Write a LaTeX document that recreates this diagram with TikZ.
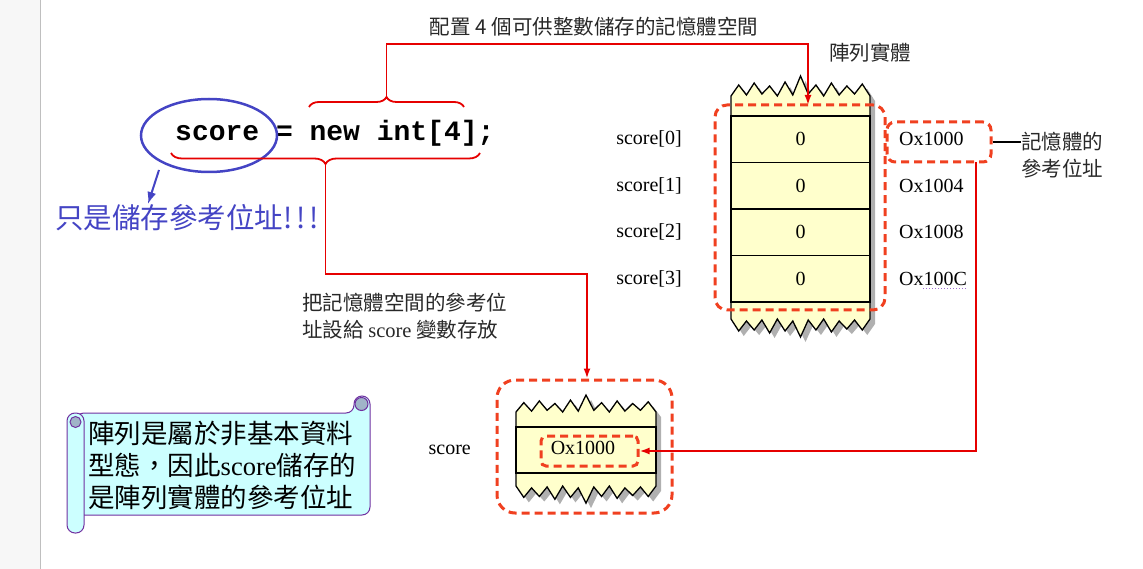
\documentclass[tikz,border=0pt]{standalone}
\usepackage{fontspec}
\setmainfont{Liberation Serif}
\newfontfamily\cjk{Noto Sans CJK TC}
\newfontfamily\codefont{Liberation Mono}
\usepackage{tikz}
\usetikzlibrary{positioning,shapes.geometric,arrows.meta,decorations.pathreplacing}
\definecolor{memyellow}{RGB}{255,255,204}
\definecolor{dashred}{RGB}{240,64,32}
\definecolor{linered}{RGB}{230,0,0}
\definecolor{markblue}{RGB}{68,68,196}
\definecolor{scrollfill}{RGB}{204,255,255}
\definecolor{scrollline}{RGB}{112,48,160}
\definecolor{curlgray}{RGB}{160,180,200}
\definecolor{shadowgray}{RGB}{176,176,176}
\definecolor{notegray}{RGB}{40,40,40}
\definecolor{stripgray}{RGB}{247,247,247}
\tikzstyle{cellbox} = [rectangle, draw, line width=1.6pt, minimum width=139pt, %
   minimum height=46.5pt, inner sep=0pt, outer sep=0pt, font=\fontsize{20}{22}\selectfont]
\tikzstyle{lbl} = [inner sep=0pt, font=\fontsize{20}{22}\selectfont]
\tikzstyle{note} = [inner sep=0pt, align=left, text=notegray, font=\cjk\fontsize{20.5}{27}\selectfont]
\tikzstyle{dashbox} = [rectangle, draw=dashred, line width=3pt, %
   dash pattern=on 8pt off 5pt, rounded corners=12pt]
\tikzstyle{torn} = [fill=memyellow, draw, line width=1.3pt]
\tikzstyle{redline} = [draw, linered, line width=1.8pt, -{Latex[length=10pt,width=7pt]}]
\tikzstyle{redbrace} = [draw, linered, line width=1.8pt, decorate, decoration={brace, amplitude=10pt}]
% torn paper strip: left, right, top, bottom, tooth scale up, tooth scale down
\newcommand{\tornpath}[6]{(#1,#4) -- (#1,#3)
   \foreach \i/\h in {1/11,2/1,3/13,4/2,5/10,6/0,7/14,8/1,9/20,10/2,11/11,12/0,13/13,14/1,15/10,16/2,17/12}%
      { -- ({#1+\i*(#2-#1)/18},{#3-(#5)*\h}) }
   -- (#2,#3) -- (#2,#4)
   \foreach \i/\h in {17/11,16/1,15/10,14/2,13/13,12/0,11/11,10/1,9/18,8/2,7/12,6/0,5/14,4/1,3/11,2/2,1/12}%
      { -- ({#1+\i*(#2-#1)/18},{#4+(#6)*\h}) }
   -- cycle}

\begin{document}
\begin{tikzpicture}[x=1pt, y=-1pt]
   \useasboundingbox (0,0) rectangle (1143,569);
   \fill[stripgray] (0,0) rectangle (40,569);
   \draw[gray!50] (40,0) -- (40,569);

   % Code line %%%%%%%%%%%%%%%%%%%%%%%%%%%%%%%%%%%%%%%%%%%%%%%%%%
   \node[anchor=west, inner sep=0pt, font=\codefont\bfseries\fontsize{28}{30}\selectfont](code) at (175,133){%
      score = new int[4];};
   \node[ellipse, draw=markblue, line width=2.5pt, minimum width=136pt, minimum height=73pt](scoreMark) at (209,135.5){};
   \node[anchor=west, inner sep=0pt, text=markblue, font=\cjk\fontsize{28.5}{30}\selectfont](onlyRef) at (55,218){%
      只是儲存參考位址!\kern4pt!\kern4pt!};
   \coordinate (markOut) at (159,170);
   \coordinate (markIn) at (148,204);
   \draw[markblue, line width=2pt, -{Latex[length=12pt,width=9pt]}] (markOut) -- (markIn);

   \path[redbrace] (309,107) -- (464,107);
   \path[redbrace, decoration={amplitude=11pt}] (480,153) -- (171,153);
   \coordinate (topTip) at (386.5,97);
   \coordinate (botTip) at (325.5,164);

   \node[note](allocNote) at (594,27){配置 4 個可供整數儲存的記憶體空間};
   \node[note, anchor=west](setNote) at (302,316.5){把記憶體空間的參考位\\址設給 {\rmfamily score} 變數存放};

   % Array object %%%%%%%%%%%%%%%%%%%%%%%%%%%%%%%%%%%%%%%%%%%%%%%
   \node[note](arrTitle) at (870,53){陣列實體};
   \fill[shadowgray, xshift=5pt, yshift=-5pt] \tornpath{731}{870}{96}{319}{1}{1};
   \path[torn] \tornpath{731}{870}{96}{319}{1}{1};
   \node[cellbox](cell0) at (800.5,139.25){0};
   \node[cellbox, below=0pt of cell0](cell1){0};
   \node[cellbox, below=0pt of cell1](cell2){0};
   \node[cellbox, below=0pt of cell2](cell3){0};
   \node[lbl, left=49pt of cell0](idx0){score[0]};
   \node[lbl, left=49pt of cell1](idx1){score[1]};
   \node[lbl, left=49pt of cell2](idx2){score[2]};
   \node[lbl, left=49pt of cell3](idx3){score[3]};
   \node[lbl, right=29pt of cell0](addr0){Ox1000};
   \node[lbl, right=29pt of cell1](addr1){Ox1004};
   \node[lbl, right=29pt of cell2](addr2){Ox1008};
   \node[lbl, right=29pt of cell3](addr3){Ox100C};
   \draw[dotted, line width=1pt, color={rgb,255:red,160;green,110;blue,210}] %
      ([xshift=24pt,yshift=-3pt]addr3.south west) -- ([yshift=-3pt]addr3.south east);
   \node[dashbox, minimum width=170pt, minimum height=205pt](arrBox) at (800,207.5){};
   \node[dashbox, rounded corners=8pt, minimum width=104pt, minimum height=40pt](oxBox) at (939,142){};
   \node[note, anchor=west](memLabel) at (1021,155){記憶體的\\參考位址};
   \coordinate (arrIn) at (808,105);
   \coordinate (topBend) at (808,44);

   % Reference variable %%%%%%%%%%%%%%%%%%%%%%%%%%%%%%%%%%%%%%%%%
   \fill[shadowgray, xshift=5pt, yshift=-5pt] \tornpath{516}{656}{412}{486}{0.85}{0.95};
   \path[torn] \tornpath{516}{656}{412}{486}{0.85}{0.95};
   \node[cellbox, minimum width=140pt, minimum height=46pt](scoreCell) at (586,450){};
   \node[lbl, left=45pt of scoreCell](scoreName){score};
   \node[lbl](innerAddr) at (583,448){Ox1000};
   \node[dashbox, rounded corners=5pt, minimum width=97pt, minimum height=30pt](innerBox) at (589.5,451){};
   \node[dashbox, rounded corners=18pt, minimum width=175pt, minimum height=133pt](scoreBox) at (584.5,446.5){};
   \coordinate (botBend) at (587,274);
   \coordinate (refOut) at (976,162);

   % Draw edges
   \path [redline] (topTip) |- (topBend) -- (arrIn);
   \path [redline] (botTip) |- (botBend) -- (scoreBox.north -| botBend);
   \path [redline] (refOut) |- (innerBox.east);
   \draw[line width=1.2pt] (oxBox.east) -- (oxBox.east -| memLabel.west);

   % Scroll note %%%%%%%%%%%%%%%%%%%%%%%%%%%%%%%%%%%%%%%%%%%%%%%%
   \filldraw[fill=scrollfill, draw=scrollline, line width=1pt, rounded corners=8pt] %
      (76,413) -- (354,413) -- (354,396) -- (370,396) -- (370,515) -- (76,515) -- cycle;
   \filldraw[fill=curlgray, draw=scrollline, line width=1pt] (361.5,404) circle[radius=6.5pt];
   \filldraw[fill=scrollfill, draw=scrollline, line width=1pt, rounded corners=8pt] (67,413) rectangle (84,533);
   \filldraw[fill=curlgray, draw=scrollline, line width=1pt] (75.5,422) circle[radius=5.5pt];
   \node[anchor=west, inner sep=0pt, align=left, font=\cjk\fontsize{26.5}{32}\selectfont](scrollText) at (88,465){%
      陣列是屬於非基本資料\\型態，因此{\rmfamily score}儲存的\\是陣列實體的參考位址};
\end{tikzpicture}
\end{document}
